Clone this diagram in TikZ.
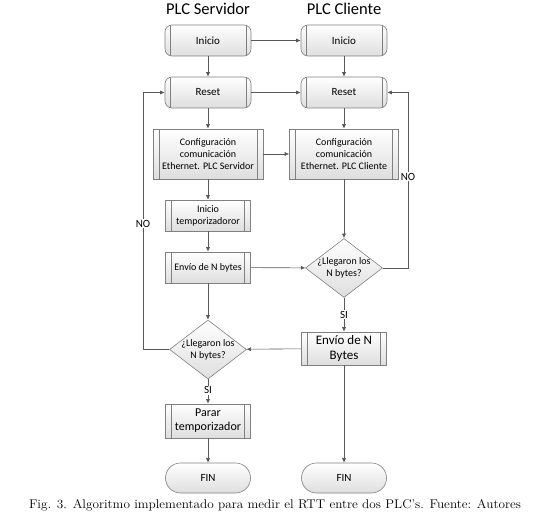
\documentclass[tikz,border=0pt]{standalone}
\usepackage{fontspec}
\setsansfont{Carlito}
\usetikzlibrary{arrows.meta,shapes.geometric}
\tikzset{
  ln/.style={draw=black!65, line width=0.6pt},
  arr/.style={ln, -{Latex[length=4.5pt,width=4pt]}},
  shade box/.style={top color=white, bottom color=black!13, draw=black!50, line width=0.6pt, inner sep=0pt, align=center},
  bars/.style={path picture={
      \draw[black!50, line width=0.6pt]
        ([xshift=#1]path picture bounding box.north west) -- ([xshift=#1]path picture bounding box.south west)
        ([xshift=-#1]path picture bounding box.north east) -- ([xshift=-#1]path picture bounding box.south east);}},
  proc/.style={shade box, rectangle, bars=6pt, font=\sffamily\fontsize{10}{12}\selectfont},
  term/.style={shade box, rounded corners=7pt, bars=5pt, minimum width=86pt, minimum height=31pt, font=\sffamily\fontsize{11}{13}\selectfont},
  finbox/.style={shade box, rounded corners=15pt, minimum width=85pt, minimum height=30pt, font=\sffamily\fontsize{11}{13}\selectfont},
  dec/.style={shade box, diamond, minimum width=77pt, minimum height=59pt},
  dectext/.style={font=\sffamily\fontsize{10}{12}\selectfont, align=center},
  lbl/.style={font=\sffamily\fontsize{11}{13}\selectfont, fill=white, inner sep=1pt},
  head/.style={font=\sffamily\fontsize{16.5}{18}\selectfont},
}
\begin{document}
\begin{tikzpicture}[x=1pt,y=-1pt]
\useasboundingbox[fill=white] (0,0) rectangle (550,519);
\node[head] (h1) at (208,9) {PLC Servidor};
\node[head] (h2) at (344,9) {PLC Cliente};

\node[term] (iniS) at (208,40.5) {Inicio};
\node[term] (iniC) at (344,40.5) {Inicio};
\node[term] (resS) at (208,92.5) {Reset};
\node[term] (resC) at (344,92.5) {Reset};

\node[proc, minimum width=110pt, minimum height=50pt] (confS) at (208,154) {Configuración\\comunicación\\Ethernet. PLC Servidor};
\node[proc, minimum width=109pt, minimum height=50pt] (confC) at (344,154) {Configuración\\comunicación\\Ethernet. PLC Cliente};

\node[proc, minimum width=85pt, minimum height=31pt] (tim) at (208,215.5) {Inicio\\temporizadoror};
\node[proc, minimum width=85pt, minimum height=31pt] (envS) at (208,267.5) {Envío de N bytes};

\node[dec, label={[dectext]center:¿Llegaron los\\N bytes?}] (decC) at (344,268) {};
\node[proc, minimum width=85pt, minimum height=33pt, font=\sffamily\fontsize{13}{15}\selectfont] (envC) at (344,348.5) {Envío de N\\Bytes};

\node[dec, label={[dectext]center:¿Llegaron los\\N bytes?}] (decS) at (208,349.5) {};
\node[proc, minimum width=85pt, minimum height=34pt, font=\sffamily\fontsize{12}{14}\selectfont] (par) at (208,421) {Parar\\temporizador};

\node[finbox] (finS) at (208,478) {FIN};
\node[finbox] (finC) at (344,478) {FIN};

\coordinate (rl) at (408,0);
\coordinate (ll) at (143,0);

\draw[arr] (iniS) -- (iniC);
\draw[arr] (iniS) -- (resS);
\draw[arr] (iniC) -- (resC);
\draw[arr] (resS) -- (resC);
\draw[arr] (resS) -- (confS);
\draw[arr] (resC) -- (confC);
\draw[arr] (confS) -- (confC);
\draw[arr] (confS) -- (tim);
\draw[arr] (tim) -- (envS);
\draw[arr] (envS) -- (decC);
\draw[arr] (confC) -- (decC);
\draw[arr] (decC) -- node[lbl, pos=0.5] (si1) {SI} (envC);
\draw[arr] (decC.east) -- (rl |- decC.east) -- node[lbl, pos=0.52] (no1) {NO} (rl |- resC.east) -- (resC.east);
\draw[arr] (envS) -- (decS);
\draw[arr] (envC) -- (decS);
\draw[arr] (decS.west) -- (ll |- decS.west) -- node[lbl, pos=0.49] (no2) {NO} (ll |- resS.west) -- (resS.west);
\draw[arr] (decS) -- node[lbl, pos=0.45] (si2) {SI} (par);
\draw[arr] (par) -- (finS);
\draw[arr] (envC) -- (finC);

\node[font=\rmfamily\fontsize{12.6}{14}\selectfont, inner sep=0pt] (cap) at (275,505.5) {\scalebox{1.05}[1]{Fig. 3. Algoritmo implementado para medir el RTT entre dos PLC's. Fuente: Autores}};
\end{tikzpicture}
\end{document}
